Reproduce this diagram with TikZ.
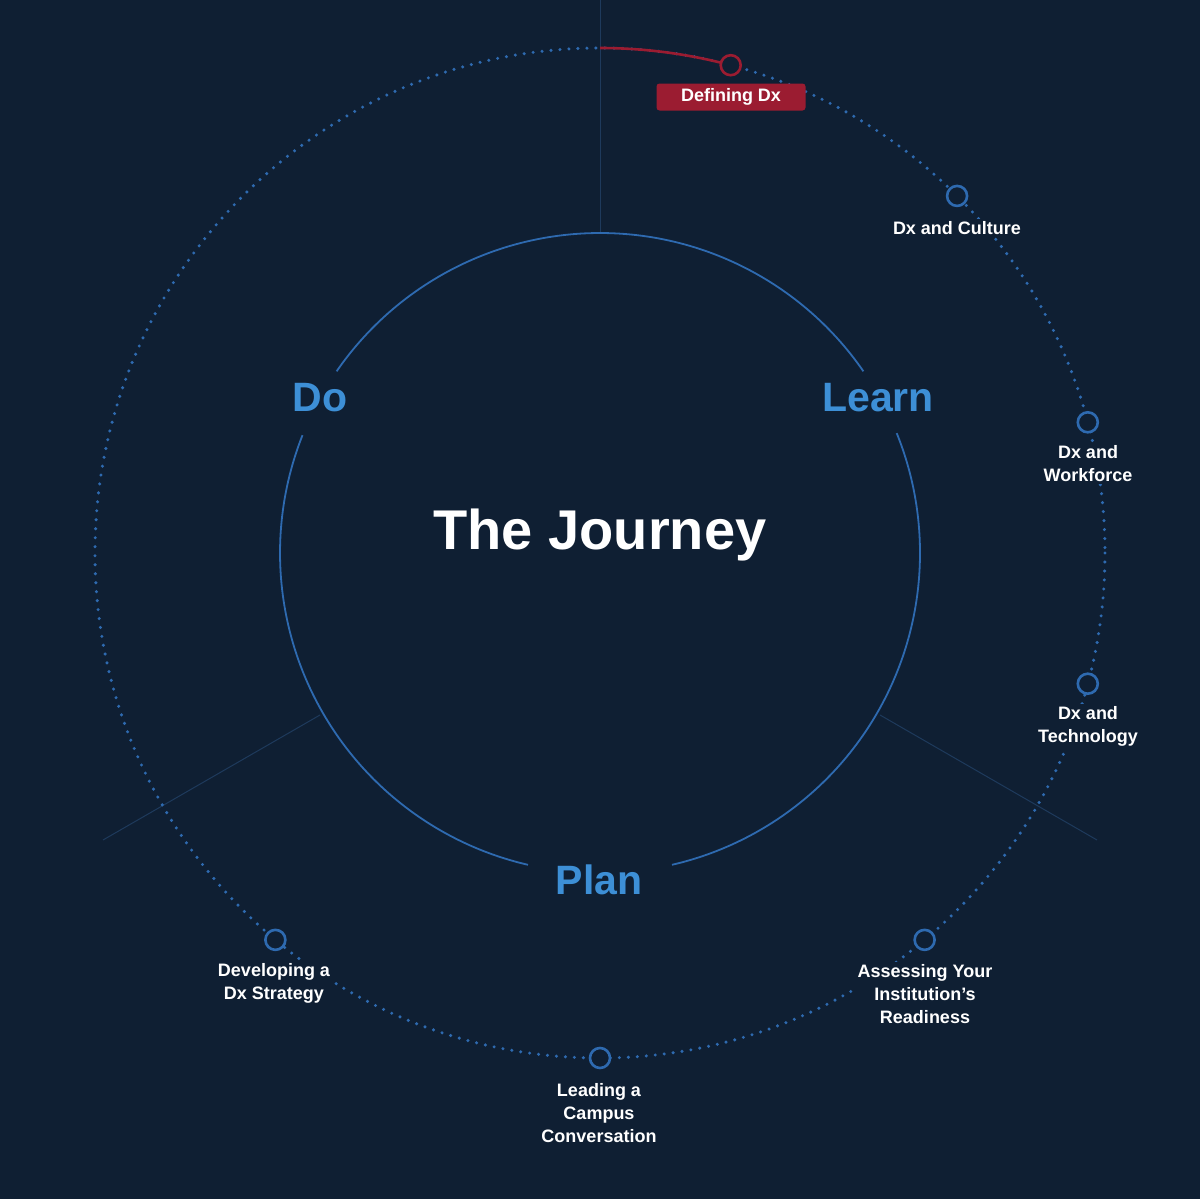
\documentclass[tikz,border=0pt]{standalone}
\usepackage{fontspec}
\setmainfont{Liberation Sans}
\usetikzlibrary{calc}
\definecolor{bg}{HTML}{0F1F33}
\definecolor{ring}{HTML}{2E6AB0}
\definecolor{lbl}{HTML}{3D8FD6}
\definecolor{redc}{HTML}{9B1C31}
\definecolor{faint}{HTML}{1E3A5C}
\tikzset{
  stop/.style={circle,draw=ring,line width=1.3pt,fill=bg,minimum size=10pt,inner sep=0pt},
  toplabel/.style={text=white,font=\bfseries\fontsize{9}{11.5}\selectfont,align=center,fill=bg,inner sep=1pt},
  phase/.style={text=lbl,font=\bfseries\fontsize{20.5}{24}\selectfont}
}
\begin{document}
\begin{tikzpicture}[x=0.5pt,y=-0.5pt]
\fill[bg] (0,0) rectangle (1200,1199);
\useasboundingbox (0,0) rectangle (1200,1199);
\coordinate (c) at (600,553);
% thin lines
\draw[faint,line width=0.5pt] (600,0) -- (600,233);
\draw[faint,line width=0.5pt] (320,715) -- (103,840);
\draw[faint,line width=0.5pt] (880,715) -- (1097,840);
% outer dotted ring
\draw[ring,line width=1.7pt,line cap=round,dash pattern=on 0pt off 4.5pt] (c) circle[radius=505];
% red arc
\draw[redc,line width=1.3pt] (600,48) arc[start angle=-90,end angle=-75,radius=505];
% inner circle arcs
\draw[ring,line width=0.9pt] ($(c)+(-34.6:320)$) arc[start angle=-34.6,end angle=-145.4,radius=320];
\draw[ring,line width=0.9pt] ($(c)+(-158.4:320)$) arc[start angle=-158.4,end angle=-257,radius=320];
\draw[ring,line width=0.9pt] ($(c)+(-283:320)$) arc[start angle=-283,end angle=-382,radius=320];
% stops
\node[stop,draw=redc] (s1) at ($(c)+(-75:505)$) {};
\node[stop] (s2) at ($(c)+(-45:505)$) {};
\node[stop] (s3) at ($(c)+(-15:505)$) {};
\node[stop] (s4) at ($(c)+(15:505)$) {};
\node[stop] (s5) at ($(c)+(50:505)$) {};
\node[stop] (s6) at ($(c)+(90:505)$) {};
\node[stop] (s7) at ($(c)+(130:505)$) {};
% labels
\node[fill=redc,rounded corners=1.5pt,minimum width=74.5pt,minimum height=13.5pt,inner sep=0pt,text=white,font=\bfseries\fontsize{9}{11}\selectfont] (l1) at (731,97) {Defining Dx};
\node[toplabel] (l2) at (957,228) {Dx and Culture};
\node[toplabel] (l3) at (1088,464) {Dx and\\Workforce};
\node[toplabel] (l4) at (1088,726) {Dx and\\Technology};
\node[toplabel] (l5) at (925,994) {Assessing Your\\Institution\symbol{39}s\\Readiness};
\node[toplabel] (l6) at (599,1113) {Leading a\\Campus\\Conversation};
\node[toplabel] (l7) at (274,983) {Developing a\\Dx Strategy};
% phases
\node[phase] (do) at (320,398) {Do};
\node[phase] (learn) at (878,398) {Learn};
\node[phase] (plan) at (599,880) {Plan};
\node[text=white,font=\bfseries\fontsize{28}{34}\selectfont] (title) at (600,535) {The Journey};
\end{tikzpicture}
\end{document}
